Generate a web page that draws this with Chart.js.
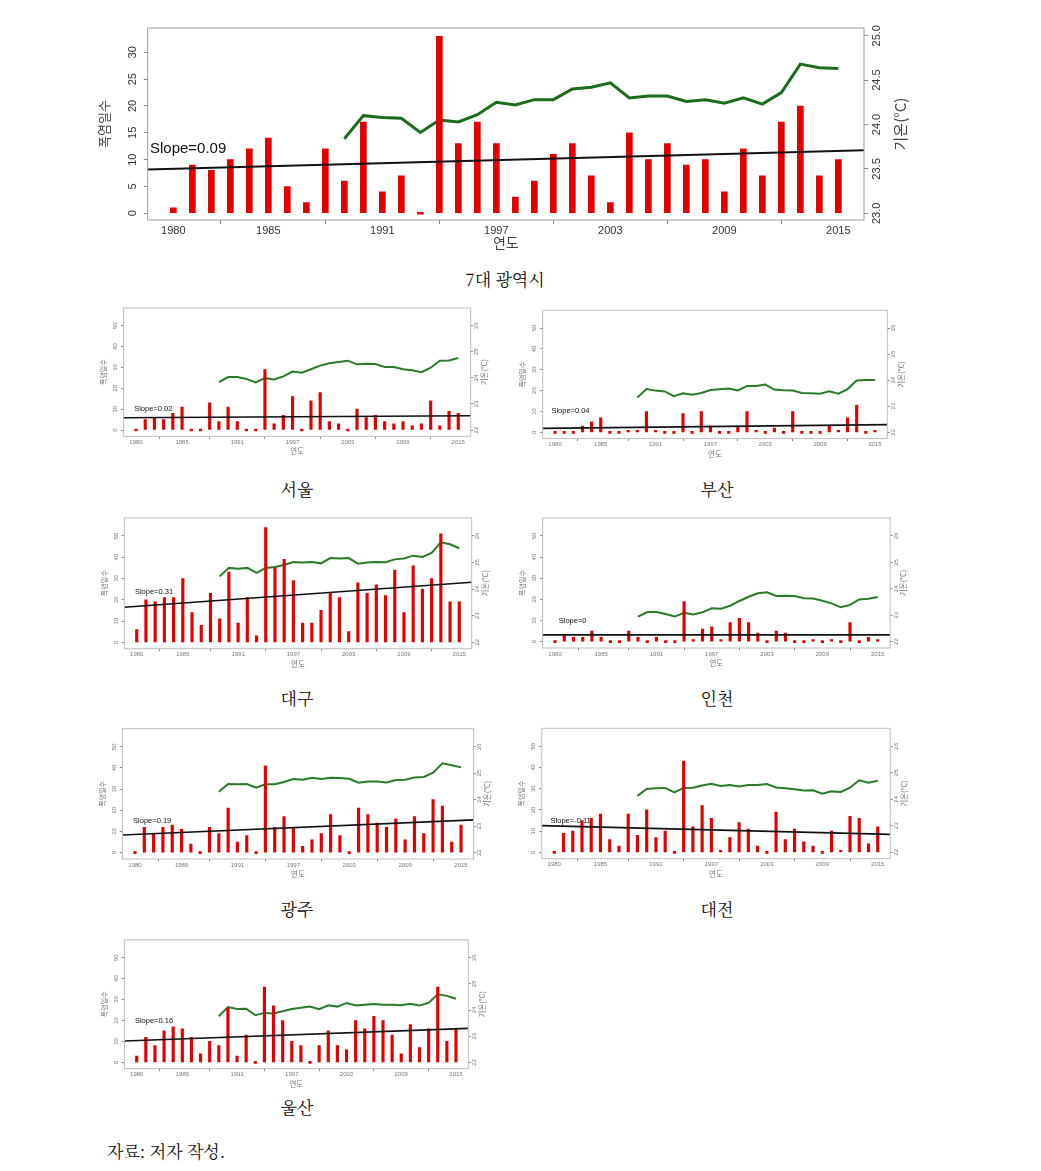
<!DOCTYPE html>
<html>
<head>
<meta charset="utf-8">
<script src="https://cdn.jsdelivr.net/npm/chart.js@4.4.1/dist/chart.umd.min.js"></script>
<style>
body { margin: 0; background: #fff; width: 1041px; height: 1171px; position: relative; overflow: hidden; }
canvas { position: absolute; }
.cap { position: absolute; font-family: 'Noto Serif CJK KR', 'Noto Sans CJK KR', serif; font-size: 17px; color: #111; transform: translate(-50%, -50%); white-space: nowrap; }
.src { position: absolute; left: 107px; top: 1150px; transform: translateY(-50%); font-family: 'Noto Serif CJK KR', 'Noto Sans CJK KR', serif; font-size: 17px; color: #111; }
</style>
</head>
<body>
<div id="wrap"></div>
<div class="cap" style="left:505px;top:278px">7대 광역시</div>
<div class="cap" style="left:297px;top:488px">서울</div>
<div class="cap" style="left:717px;top:488px">부산</div>
<div class="cap" style="left:297px;top:697px">대구</div>
<div class="cap" style="left:717px;top:697px">인천</div>
<div class="cap" style="left:297px;top:908px">광주</div>
<div class="cap" style="left:717px;top:908px">대전</div>
<div class="cap" style="left:297px;top:1106px">울산</div>
<div class="src">자료: 저자 작성.</div>
<script>
// years on the x axis, temperature line starts in 1989
const years = [1980, 1981, 1982, 1983, 1984, 1985, 1986, 1987, 1988, 1989, 1990, 1991, 1992, 1993, 1994, 1995, 1996, 1997,
               1998, 1999, 2000, 2001, 2002, 2003, 2004, 2005, 2006, 2007, 2008, 2009, 2010, 2011, 2012, 2013, 2014, 2015];
const tempYears = [1989, 1990, 1991, 1992, 1993, 1994, 1995, 1996, 1997, 1998, 1999, 2000, 2001, 2002,
                   2003, 2004, 2005, 2006, 2007, 2008, 2009, 2010, 2011, 2012, 2013, 2014, 2015];
const yearTicks = [1980, 1985, 1991, 1997, 2003, 2009, 2015];
const dayTicksMain = [0, 5, 10, 15, 20, 25, 30];
const tempTicksMain = [23.0, 23.5, 24.0, 24.5, 25.0];
const dayTicksSmall = [0, 10, 20, 30, 40, 50];
const tempTicksSmall = [22, 23, 24, 25, 26];

// 폭염일수
const daysAll = [1, 9, 8, 10, 12, 14, 5, 2, 12, 6, 17, 4, 7, 0, 33, 13, 17, 13, 3, 6, 11, 13, 7, 2, 15, 10, 13, 9, 10, 4, 12, 7, 17, 20, 7, 10];
const daysSeoul = [0, 5, 6, 5, 8, 11, 0, 0, 13, 4, 11, 4, 0, 0, 29, 3, 7, 16, 0, 14, 18, 4, 3, 0, 10, 6, 7, 4, 3, 4, 2, 3, 14, 2, 9, 8];
const daysBusan = [0, 0, 0, 3, 5, 7, 0, 0, 1, 1, 10, 1, 0, 0, 9, 0, 10, 3, 0, 0, 3, 10, 1, 0, 2, 0, 10, 0, 0, 0, 3, 1, 7, 13, 0, 1];
const daysDaegu = [6, 20, 19, 21, 21, 30, 14, 8, 23, 11, 33, 9, 21, 3, 54, 35, 39, 29, 9, 9, 15, 23, 21, 5, 28, 23, 27, 22, 34, 14, 36, 25, 30, 51, 19, 19];
const daysIncheon = [0, 3, 2, 2, 5, 2, 0, 0, 5, 2, 0, 2, 0, 0, 19, 1, 6, 7, 1, 9, 11, 9, 4, 0, 5, 4, 0, 0, 1, 0, 1, 0, 9, 0, 2, 1];
const daysGwangju = [0, 12, 9, 12, 13, 11, 4, 0, 12, 9, 21, 5, 8, 0, 41, 12, 17, 12, 3, 6, 9, 18, 8, 0, 21, 18, 14, 12, 16, 6, 17, 9, 25, 22, 5, 13];
const daysDaejeon = [0, 9, 10, 15, 16, 18, 6, 3, 18, 8, 20, 7, 10, 0, 43, 12, 22, 16, 1, 7, 14, 11, 3, 0, 19, 6, 11, 5, 3, 0, 10, 1, 17, 16, 4, 12];
const daysUlsan = [3, 12, 8, 15, 17, 16, 12, 4, 10, 8, 26, 3, 13, 0, 36, 27, 20, 10, 8, 0, 8, 15, 8, 6, 20, 16, 22, 20, 13, 4, 18, 7, 16, 36, 10, 16];

// 기온 (°C), 1989-2015
const tempAll = [23.84, 24.10, 24.08, 24.07, 23.91, 24.05, 24.03, 24.11, 24.25, 24.22, 24.28, 24.28, 24.40, 24.42,
                 24.47, 24.30, 24.32, 24.32, 24.26, 24.28, 24.24, 24.30, 24.23, 24.36, 24.68, 24.64, 24.63];
const tempSeoul = [23.84, 24.03, 24.03, 23.96, 23.83, 23.99, 23.94, 24.06, 24.24, 24.20, 24.33, 24.47, 24.56, 24.61,
                   24.66, 24.52, 24.54, 24.53, 24.42, 24.42, 24.33, 24.29, 24.22, 24.39, 24.66, 24.67, 24.76];
const tempBusan = [23.34, 23.66, 23.60, 23.57, 23.39, 23.50, 23.44, 23.51, 23.62, 23.65, 23.68, 23.61, 23.78, 23.78,
                   23.83, 23.64, 23.61, 23.60, 23.51, 23.50, 23.48, 23.57, 23.48, 23.66, 23.99, 24.01, 24.01];
const tempDaegu = [24.48, 24.80, 24.77, 24.80, 24.61, 24.80, 24.83, 24.91, 25.02, 25.00, 25.02, 24.97, 25.17, 25.15,
                   25.17, 24.96, 25.00, 25.02, 25.01, 25.12, 25.15, 25.26, 25.21, 25.36, 25.76, 25.69, 25.54];
const tempIncheon = [22.95, 23.12, 23.12, 23.05, 22.95, 23.09, 23.03, 23.11, 23.26, 23.25, 23.36, 23.54, 23.70, 23.83,
                     23.87, 23.73, 23.74, 23.73, 23.64, 23.63, 23.55, 23.45, 23.30, 23.39, 23.60, 23.62, 23.69];
const tempGwangju = [24.30, 24.59, 24.58, 24.59, 24.45, 24.58, 24.58, 24.67, 24.78, 24.75, 24.83, 24.78, 24.83, 24.82,
                     24.79, 24.64, 24.69, 24.69, 24.65, 24.74, 24.75, 24.84, 24.86, 25.02, 25.37, 25.30, 25.22];
const tempDaejeon = [24.13, 24.39, 24.42, 24.43, 24.26, 24.43, 24.44, 24.52, 24.59, 24.50, 24.54, 24.48, 24.54, 24.54,
                     24.58, 24.45, 24.42, 24.38, 24.33, 24.34, 24.21, 24.30, 24.28, 24.44, 24.72, 24.63, 24.70];
const tempUlsan = [23.76, 24.11, 24.04, 24.05, 23.80, 23.89, 23.87, 23.95, 24.04, 24.09, 24.13, 24.03, 24.18, 24.13,
                   24.27, 24.17, 24.20, 24.23, 24.20, 24.20, 24.18, 24.24, 24.17, 24.27, 24.60, 24.54, 24.43];

// trend line value in 1980 and in 2015
const trendAll = [8.3, 11.6];
const trendSeoul = [5.95, 6.85];
const trendBusan = [1.96, 3.63];
const trendDaegu = [16.9, 27.8];
const trendIncheon = [3.2, 3.2];
const trendGwangju = [8.55, 15.2];
const trendDaejeon = [12.45, 8.6];
const trendUlsan = [10.4, 16.0];

const slopeLabels = ['Slope=0.09', 'Slope=0.02', 'Slope=0.04', 'Slope=0.31', 'Slope=0', 'Slope=0.19', 'Slope=-0.11', 'Slope=0.16'];

Chart.defaults.font.family = "'Liberation Sans', Arial, sans-serif";
Chart.defaults.animation = false;

const X_MIN = 1978.65, X_MAX = 2016.35;

const big = {
    leftW: 54.7, padTop: 18, rightW: 66, titleBelow: 23,
    tickFont: 11, tickLen: 4, lPad: 4.5, rPad: -2, xPad: 0,
    lTitle: 13, xTitle: 14, tPad: 4, rtFont: 15, rtOff: 36,
    barW: 6, tempW: 3, trendW: 2, slopeFont: 15,
    tickColor: '#333', boxColor: '#9a9a9a', titleColor: '#444', green: '#1d6b1d'
};
const small = {
    leftW: 26, padTop: 8, rightW: 22, titleBelow: 15.4,
    tickFont: 6, tickLen: 2.5, lPad: 2.6, rPad: 0, xPad: 0,
    lTitle: 7, xTitle: 7.5, tPad: 2, rtFont: 7.5, rtOff: 13.5,
    barW: 2.5, tempW: 2, trendW: 1.6, slopeFont: 7.5,
    tickColor: '#777', boxColor: '#bdbdbd', titleColor: '#777', green: '#2a7a2a'
};

const panels = [
    {days: daysAll, temp: tempAll, trend: trendAll, slope: slopeLabels[0], s: big,
     box: {l: 147.7, t: 28, r: 864, b: 220}, yDays: [-1.25, 34.53], yTemp: [22.925, 25.087],
     dTicks: dayTicksMain, tTicks: tempTicksMain, slopeAt: [1978.77, 12.1]},
    {days: daysSeoul, temp: tempSeoul, trend: trendSeoul, slope: slopeLabels[1], s: small,
     box: {l: 123.6, t: 308, r: 470.7, b: 436.3}, slopeAt: [1979.8, 10.1]},
    {days: daysBusan, temp: tempBusan, trend: trendBusan, slope: slopeLabels[2], s: small,
     box: {l: 542.7, t: 310.3, r: 887.3, b: 438.6}, slopeAt: [1979.6, 10.4]},
    {days: daysDaegu, temp: tempDaegu, trend: trendDaegu, slope: slopeLabels[3], s: small,
     box: {l: 124.3, t: 517.9, r: 471.7, b: 648.7}, slopeAt: [1979.8, 23.8]},
    {days: daysIncheon, temp: tempIncheon, trend: trendIncheon, slope: slopeLabels[4], s: small,
     box: {l: 542.6, t: 518, r: 890.1, b: 648}, slopeAt: [1980.4, 9.8]},
    {days: daysGwangju, temp: tempGwangju, trend: trendGwangju, slope: slopeLabels[5], s: small,
     box: {l: 122.4, t: 728.7, r: 473.6, b: 859}, slopeAt: [1979.8, 14.9]},
    {days: daysDaejeon, temp: tempDaejeon, trend: trendDaejeon, slope: slopeLabels[6], s: small,
     box: {l: 541.8, t: 728.3, r: 890.2, b: 858.7}, slopeAt: [1979.6, 14.8]},
    {days: daysUlsan, temp: tempUlsan, trend: trendUlsan, slope: slopeLabels[7], s: small,
     box: {l: 124.4, t: 939.9, r: 468.3, b: 1068.6}, slopeAt: [1979.8, 19.7]}
];

// box around the plot, slope label and right axis title (R style, reading upwards)
const frame = {
    id: 'frame',
    afterDatasetsDraw(chart, args, o) {
        const {ctx, chartArea: a, scales} = chart;
        ctx.save();
        ctx.strokeStyle = o.boxColor;
        ctx.lineWidth = 1;
        ctx.strokeRect(a.left, a.top, a.right - a.left, a.bottom - a.top);
        ctx.fillStyle = '#111';
        ctx.font = o.slopeFont + "px 'Liberation Sans', Arial, sans-serif";
        ctx.textAlign = 'left';
        ctx.textBaseline = 'middle';
        ctx.fillText(o.slope, scales.x.getPixelForValue(o.slopeAt[0]), scales.y.getPixelForValue(o.slopeAt[1]));
        ctx.translate(a.right + o.rtOff, (a.top + a.bottom) / 2);
        ctx.rotate(-Math.PI / 2);
        ctx.textAlign = 'center';
        ctx.fillStyle = o.titleColor;
        ctx.font = o.rtFont + "px 'Noto Sans CJK KR', sans-serif";
        ctx.fillText('기온(°C)', 0, 0);
        ctx.restore();
    }
};

function fixedTicks(list) {
    return function(scale) { scale.ticks = list.map(v => ({value: v})); };
}

panels.forEach(function(p, i) {
    const s = p.s;
    const b = p.box;
    const xOff = s.xTitle * 1.2 / 2 + s.tPad;
    const cl = Math.floor(b.l - s.leftW);
    const ct = Math.floor(b.t - s.padTop);
    const cr = Math.ceil(b.r + s.rightW);
    const cb = Math.round(b.b + s.titleBelow + xOff);
    const cv = document.createElement('canvas');
    cv.width = cr - cl;
    cv.height = cb - ct;
    cv.style.left = cl + 'px';
    cv.style.top = ct + 'px';
    document.body.appendChild(cv);

    const yDays = p.yDays || [-3, 58.5];
    const yTemp = p.yTemp || [21.76, 26.68];
    const dTicks = p.dTicks || dayTicksSmall;
    const tTicks = p.tTicks || tempTicksSmall;
    const k = (p.trend[1] - p.trend[0]) / 35;

    const gridOpts = {display: true, drawOnChartArea: false, drawTicks: true, tickLength: s.tickLen, color: '#888'};

    new Chart(cv.getContext('2d'), {
        type: 'bar',
        data: {
            datasets: [{
                type: 'line',
                data: tempYears.map((y, j) => ({x: y, y: p.temp[j]})),
                yAxisID: 'y1',
                borderColor: s.green,
                borderWidth: s.tempW,
                pointRadius: 0,
                tension: 0,
                order: 3
            }, {
                type: 'bar',
                data: years.map((y, j) => ({x: y, y: p.days[j]})),
                yAxisID: 'y',
                backgroundColor: '#e20000',
                barThickness: s.barW,
                minBarLength: 2,
                order: 2
            }, {
                type: 'line',
                data: [X_MIN, X_MAX].map(x => ({x: x, y: p.trend[0] + k * (x - 1980)})),
                yAxisID: 'y',
                borderColor: '#111',
                borderWidth: s.trendW,
                pointRadius: 0,
                order: 1
            }]
        },
        options: {
            responsive: false,
            devicePixelRatio: 1,
            layout: {padding: {top: b.t - ct, left: 0, right: 0, bottom: 0}},
            plugins: {
                legend: {display: false},
                tooltip: {enabled: false},
                frame: {boxColor: s.boxColor, slope: p.slope, slopeAt: p.slopeAt, slopeFont: s.slopeFont,
                        rtOff: s.rtOff, rtFont: s.rtFont, titleColor: s.titleColor}
            },
            scales: {
                x: {
                    type: 'linear', min: X_MIN, max: X_MAX, offset: false,
                    afterBuildTicks: fixedTicks(yearTicks),
                    afterFit: sc => { sc.height = cb - b.b; },
                    grid: gridOpts,
                    border: {display: false},
                    ticks: {font: {size: s.tickFont}, color: s.tickColor, padding: s.xPad, maxRotation: 0, autoSkip: false,
                            callback: v => String(v)},
                    title: {display: true, text: '연도', color: s.titleColor, padding: {top: s.tPad, bottom: s.tPad},
                            font: {size: s.xTitle, family: "'Noto Sans CJK KR', sans-serif"}}
                },
                y: {
                    position: 'left', min: yDays[0], max: yDays[1],
                    afterBuildTicks: fixedTicks(dTicks),
                    afterFit: sc => { sc.width = b.l - cl; },
                    grid: gridOpts,
                    border: {display: false},
                    ticks: {font: {size: s.tickFont}, color: s.tickColor, padding: s.lPad, minRotation: 90, maxRotation: 90,
                            crossAlign: 'center', autoSkip: false, callback: v => String(v)},
                    title: {display: true, text: '폭염일수', color: s.titleColor, padding: {top: s.tPad, bottom: s.tPad},
                            font: {size: s.lTitle, family: "'Noto Sans CJK KR', sans-serif"}}
                },
                y1: {
                    position: 'right', min: yTemp[0], max: yTemp[1],
                    afterBuildTicks: fixedTicks(tTicks),
                    afterFit: sc => { sc.width = cr - b.r; },
                    grid: gridOpts,
                    border: {display: false},
                    ticks: {font: {size: s.tickFont}, color: s.tickColor, padding: s.rPad, minRotation: 90, maxRotation: 90,
                            crossAlign: 'center', autoSkip: false,
                            callback: v => (i === 0 ? v.toFixed(1) : String(v))}
                }
            }
        },
        plugins: [frame]
    });
});
</script>
</body>
</html>
